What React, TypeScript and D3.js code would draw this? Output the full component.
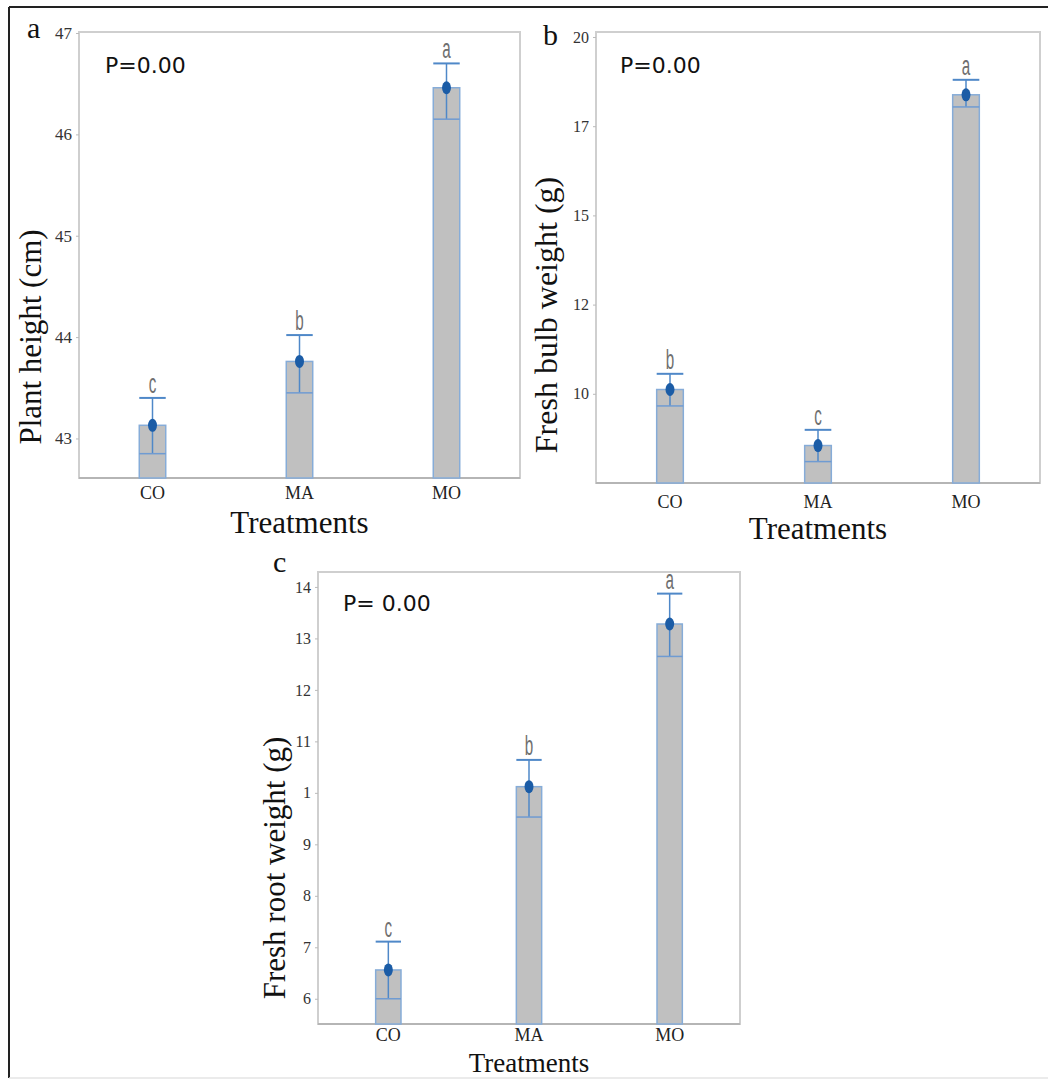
import React, { useRef, useEffect } from 'react';
import * as d3 from 'd3';

const treatments = ['CO', 'MA', 'MO'];

// a: plant height
const heightMean = [43.13, 43.76, 46.46];
const heightLow = [42.85, 43.45, 46.15];
const heightHigh = [43.4, 44.02, 46.7];
const heightGroups = ['c', 'b', 'a'];
const heightTicks = [43, 44, 45, 46, 47];
const heightTickLabels = ['43', '44', '45', '46', '47'];

// b: fresh bulb weight
const bulbMean = [10.12, 8.55, 18.38];
const bulbLow = [9.66, 8.1, 18.04];
const bulbHigh = [10.56, 8.99, 18.8];
const bulbGroups = ['b', 'c', 'a'];
const bulbTicks = [10, 12.5, 15, 17.5, 20];
const bulbTickLabels = ['10', '12', '15', '17', '20'];

// c: fresh root weight
const rootMean = [6.56, 10.12, 13.28];
const rootLow = [6.0, 9.53, 12.65];
const rootHigh = [7.11, 10.64, 13.87];
const rootGroups = ['c', 'b', 'a'];
const rootTicks = [6, 7, 8, 9, 10, 11, 12, 13, 14];
const rootTickLabels = ['6', '7', '8', '9', '1', '11', '12', '13', '14'];

const serif = "'Liberation Serif', 'Times New Roman', serif";

function Panel({ label, yTitle, pText, mean, low, high, groups, ticks, tickLabels, domain, lay }) {
  const gy = useRef(null),
    gx = useRef(null);

  const x = d3
    .scaleBand()
    .domain(treatments)
    .range([lay.x0, lay.x1])
    .paddingInner(0.82)
    .paddingOuter(0.41);

  const y = d3.scaleLinear().domain(domain).range([lay.y1, lay.y0]);
  const bw = x.bandwidth();

  useEffect(() => {
    d3.select(gy.current)
      .call(
        d3
          .axisLeft(y)
          .tickValues(ticks)
          .tickFormat((d, i) => tickLabels[i])
          .tickSize(3)
          .tickPadding(4)
      )
      .call((g) => g.select('.domain').remove())
      .call((g) => g.selectAll('.tick line').attr('stroke', '#bbb'))
      .call((g) =>
        g
          .selectAll('.tick text')
          .attr('font-family', serif)
          .attr('font-size', lay.tickSize)
          .attr('fill', '#333')
      );

    d3.select(gx.current)
      .call(d3.axisBottom(x).tickSize(0).tickPadding(lay.xPad))
      .call((g) => g.select('.domain').remove())
      .call((g) =>
        g
          .selectAll('.tick text')
          .attr('font-family', serif)
          .attr('font-size', 18)
          .attr('fill', '#222')
      );
  }, []);

  return (
    <g>
      <rect
        x={lay.x0}
        y={lay.y0}
        width={lay.x1 - lay.x0}
        height={lay.y1 - lay.y0}
        fill="#fff"
        stroke="#cfcfcf"
        strokeWidth={2}
      />
      <line x1={lay.x0} x2={lay.x1} y1={lay.y1} y2={lay.y1} stroke="#b5b5b5" strokeWidth={2} />
      <g ref={gy} transform={`translate(${lay.x0},0)`} />
      <g ref={gx} transform={`translate(0,${lay.y1})`} />

      {treatments.map((t, i) => {
        const cx = x(t) + bw / 2;
        return (
          <g key={t}>
            <rect
              x={x(t)}
              y={y(mean[i])}
              width={bw}
              height={lay.y1 - y(mean[i])}
              fill="#c0c0c0"
              stroke="#86acd8"
              strokeWidth={1.5}
            />
            <line x1={cx} x2={cx} y1={y(low[i])} y2={y(high[i])} stroke="#4f88c8" strokeWidth={1.5} />
            <line x1={x(t)} x2={x(t) + bw} y1={y(high[i])} y2={y(high[i])} stroke="#4f88c8" strokeWidth={2} />
            <line x1={x(t)} x2={x(t) + bw} y1={y(low[i])} y2={y(low[i])} stroke="#6f9bd2" strokeWidth={1.5} />
            <ellipse cx={cx} cy={y(mean[i])} rx={4.5} ry={6.5} fill="#1b5ca6" />
            <text
              transform={`translate(${cx},${y(high[i]) - 5}) scale(0.95,1.75)`}
              textAnchor="middle"
              fontFamily="'Liberation Sans', Arial, sans-serif"
              fontSize={16}
              fill="#6f6f6f"
            >
              {groups[i]}
            </text>
          </g>
        );
      })}

      <text x={lay.px} y={lay.py} fontFamily="'DejaVu Sans', sans-serif" fontSize={22} fill="#111">
        {pText}
      </text>
      <text x={lay.lx} y={lay.ly} fontFamily={serif} fontSize={30} fill="#111">
        {label}
      </text>
      <text
        transform={`translate(${lay.tx},${lay.ty}) rotate(-90)`}
        textAnchor="middle"
        fontFamily={serif}
        fontSize={lay.titleSize}
        fill="#111"
      >
        {yTitle}
      </text>
      <text x={(lay.x0 + lay.x1) / 2} y={lay.trY} textAnchor="middle" fontFamily={serif} fontSize={lay.trSize} fill="#111">
        Treatments
      </text>
    </g>
  );
}

export default function App() {
  return (
    <svg width={1048} height={1081} style={{ position: 'absolute', left: 0, top: 0, background: '#fff' }}>
      <rect width={1048} height={1081} fill="#fff" />
      <line x1={9} x2={1048} y1={7} y2={7} stroke="#222" strokeWidth={2} />
      <line x1={9} x2={9} y1={7} y2={1078} stroke="#222" strokeWidth={2} />
      <line x1={9} x2={1048} y1={1078} y2={1078} stroke="#e4e4e4" strokeWidth={1.5} />

      <Panel
        label="a"
        yTitle="Plant height (cm)"
        pText="P=0.00"
        mean={heightMean}
        low={heightLow}
        high={heightHigh}
        groups={heightGroups}
        ticks={heightTicks}
        tickLabels={heightTickLabels}
        domain={[42.61, 47.01]}
        lay={{ x0: 79, x1: 520, y0: 32, y1: 478, tickSize: 17, xPad: 8, px: 105, py: 73, lx: 27, ly: 38, tx: 41, ty: 337, titleSize: 31, trY: 533, trSize: 31 }}
      />
      <Panel
        label="b"
        yTitle="Fresh bulb weight (g)"
        pText="P=0.00"
        mean={bulbMean}
        low={bulbLow}
        high={bulbHigh}
        groups={bulbGroups}
        ticks={bulbTicks}
        tickLabels={bulbTickLabels}
        domain={[7.5, 20.14]}
        lay={{ x0: 596, x1: 1040, y0: 32, y1: 483, tickSize: 16, xPad: 12, px: 620, py: 73, lx: 543, ly: 45, tx: 557, ty: 315, titleSize: 32, trY: 539, trSize: 31 }}
      />
      <Panel
        label="c"
        yTitle="Fresh root weight (g)"
        pText="P= 0.00"
        mean={rootMean}
        low={rootLow}
        high={rootHigh}
        groups={rootGroups}
        ticks={rootTicks}
        tickLabels={rootTickLabels}
        domain={[5.51, 14.29]}
        lay={{ x0: 318, x1: 740, y0: 572, y1: 1024, tickSize: 16, xPad: 4, px: 343, py: 611, lx: 273, ly: 572, tx: 285, ty: 868, titleSize: 31, trY: 1072, trSize: 27 }}
      />
    </svg>
  );
}
